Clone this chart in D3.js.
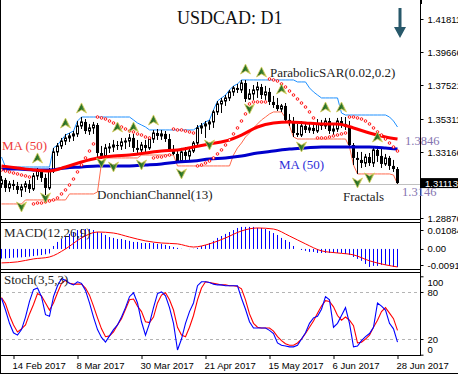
<!DOCTYPE html>
<html><head><meta charset="utf-8">
<script src="https://cdn.jsdelivr.net/npm/d3@7"></script>
<style>body{margin:0;background:#fff;}svg{display:block;}</style>
</head><body><svg id="c" width="458" height="374"></svg>
<script>
// ---------- DATA ----------
const dateIdx = [3,19,35,51,67,83,99];
const dateLabels = ["14 Feb 2017","8 Mar 2017","30 Mar 2017","21 Apr 2017","15 May 2017","6 Jun 2017","28 Jun 2017"];
const priceTicks = [1.41811,1.39666,1.37521,1.35311,1.33166,1.28876];
const lastPrice = 1.31113;
const macdTicks = [0.01084,0,-0.00919];
const macdTickLabels = ["0.01084","0.00","-0.00919"];
const stochTicks = [100,80,20,0];

const O = [1.3109,1.3135,1.3083,1.3109,1.3096,1.3070,1.3089,1.3109,1.3076,1.3161,
1.3193,1.3148,1.3083,1.3193,1.3317,1.3356,1.3388,1.3408,1.3421,1.3434,
1.3486,1.3512,1.3453,1.3473,1.3492,1.3310,1.3291,1.3343,1.3349,1.3362,
1.3356,1.3382,1.3388,1.3408,1.3343,1.3330,1.3362,1.3343,1.3401,1.3440,
1.3421,1.3434,1.3401,1.3336,1.3304,1.3258,1.3317,1.3291,1.3323,1.3375,
1.3473,1.3486,1.3499,1.3512,1.3577,1.3629,1.3648,1.3668,1.3707,1.3733,
1.3720,1.3765,1.3661,1.3694,1.3720,1.3739,1.3687,1.3707,1.3642,1.3622,
1.3596,1.3616,1.3525,1.3512,1.3440,1.3427,1.3486,1.3460,1.3473,1.3453,
1.3499,1.3486,1.3518,1.3453,1.3466,1.3518,1.3499,1.3479,1.3362,1.3278,
1.3265,1.3245,1.3284,1.3245,1.3330,1.3291,1.3239,1.3278,1.3226,1.3206];
const H = [1.3161,1.3148,1.3128,1.3135,1.3122,1.3109,1.3128,1.3135,1.3180,1.3213,
1.3200,1.3174,1.3213,1.3343,1.3375,1.3408,1.3434,1.3440,1.3453,1.3518,
1.3544,1.3531,1.3499,1.3512,1.3505,1.3356,1.3369,1.3375,1.3395,1.3388,
1.3408,1.3408,1.3434,1.3434,1.3395,1.3382,1.3395,1.3405,1.3460,1.3466,
1.3460,1.3453,1.3434,1.3362,1.3330,1.3343,1.3349,1.3343,1.3388,1.3492,
1.3505,1.3518,1.3525,1.3590,1.3648,1.3668,1.3687,1.3720,1.3746,1.3759,
1.3785,1.3785,1.3726,1.3752,1.3772,1.3759,1.3746,1.3733,1.3681,1.3668,
1.3629,1.3635,1.3564,1.3544,1.3499,1.3518,1.3512,1.3499,1.3512,1.3531,
1.3525,1.3538,1.3538,1.3492,1.3538,1.3544,1.3544,1.3518,1.3375,1.3317,
1.3317,1.3304,1.3310,1.3343,1.3356,1.3336,1.3304,1.3291,1.3265,1.3219];
const L = [1.3083,1.3057,1.3057,1.3070,1.3044,1.3024,1.3057,1.3050,1.3063,1.3135,
1.3122,1.3037,1.3070,1.3180,1.3291,1.3336,1.3362,1.3382,1.3388,1.3414,
1.3466,1.3434,1.3427,1.3434,1.3278,1.3271,1.3278,1.3310,1.3317,1.3330,
1.3330,1.3336,1.3349,1.3317,1.3297,1.3297,1.3310,1.3330,1.3375,1.3395,
1.3395,1.3382,1.3317,1.3297,1.3245,1.3245,1.3265,1.3252,1.3310,1.3362,
1.3434,1.3408,1.3460,1.3473,1.3557,1.3570,1.3616,1.3648,1.3681,1.3700,
1.3700,1.3642,1.3655,1.3655,1.3668,1.3661,1.3655,1.3622,1.3603,1.3583,
1.3577,1.3505,1.3486,1.3414,1.3414,1.3414,1.3440,1.3440,1.3434,1.3440,
1.3460,1.3466,1.3434,1.3427,1.3447,1.3473,1.3460,1.3349,1.3232,1.3174,
1.3213,1.3219,1.3226,1.3219,1.3252,1.3213,1.3226,1.3200,1.3187,1.3109];
const C = [1.3135,1.3083,1.3109,1.3096,1.3070,1.3089,1.3109,1.3076,1.3161,1.3193,
1.3148,1.3083,1.3193,1.3317,1.3356,1.3388,1.3408,1.3421,1.3434,1.3486,
1.3512,1.3453,1.3473,1.3492,1.3310,1.3291,1.3343,1.3349,1.3362,1.3356,
1.3382,1.3388,1.3408,1.3343,1.3330,1.3362,1.3343,1.3401,1.3440,1.3421,
1.3434,1.3401,1.3336,1.3304,1.3258,1.3317,1.3291,1.3323,1.3375,1.3473,
1.3486,1.3499,1.3512,1.3577,1.3629,1.3648,1.3668,1.3707,1.3733,1.3720,
1.3765,1.3661,1.3694,1.3720,1.3739,1.3687,1.3707,1.3642,1.3622,1.3596,
1.3616,1.3525,1.3512,1.3440,1.3427,1.3486,1.3460,1.3473,1.3453,1.3499,
1.3486,1.3518,1.3453,1.3466,1.3518,1.3499,1.3479,1.3362,1.3278,1.3265,
1.3245,1.3284,1.3245,1.3330,1.3291,1.3239,1.3278,1.3226,1.3206,1.3115];

const donchUpper = [1.3284,1.3219,1.3219,1.3219,1.3219,1.3219,1.3219,1.3219,1.3219,1.3219,
1.3219,1.3219,1.3219,1.3343,1.3362,1.3395,1.3427,1.3440,1.3453,1.3518,
1.3544,1.3544,1.3544,1.3544,1.3544,1.3544,1.3544,1.3544,1.3544,1.3544,
1.3544,1.3544,1.3544,1.3525,1.3505,1.3492,1.3479,1.3460,1.3460,1.3460,
1.3460,1.3460,1.3460,1.3460,1.3460,1.3460,1.3460,1.3460,1.3460,1.3479,
1.3492,1.3512,1.3525,1.3590,1.3648,1.3668,1.3687,1.3720,1.3746,1.3759,
1.3785,1.3785,1.3785,1.3785,1.3785,1.3785,1.3785,1.3785,1.3785,1.3785,
1.3785,1.3785,1.3785,1.3785,1.3772,1.3772,1.3772,1.3733,1.3707,1.3687,
1.3668,1.3668,1.3668,1.3668,1.3668,1.3570,1.3557,1.3557,1.3557,1.3557,
1.3557,1.3557,1.3557,1.3557,1.3557,1.3557,1.3557,1.3544,1.3518,1.3479];
const donchLower = [1.2979,1.2979,1.2979,1.2979,1.2979,1.2979,1.3005,1.3005,1.3005,1.3005,
1.3005,1.3005,1.3005,1.3005,1.3005,1.3005,1.3005,1.3044,1.3044,1.3044,
1.3044,1.3044,1.3044,1.3044,1.3057,1.3245,1.3278,1.3278,1.3278,1.3278,
1.3278,1.3278,1.3278,1.3278,1.3278,1.3297,1.3297,1.3297,1.3297,1.3297,
1.3297,1.3297,1.3297,1.3297,1.3226,1.3226,1.3226,1.3226,1.3226,1.3226,
1.3226,1.3226,1.3226,1.3226,1.3226,1.3226,1.3226,1.3226,1.3297,1.3343,
1.3375,1.3414,1.3440,1.3473,1.3499,1.3525,1.3544,1.3564,1.3577,1.3577,
1.3577,1.3538,1.3486,1.3414,1.3401,1.3401,1.3401,1.3401,1.3401,1.3401,
1.3401,1.3401,1.3401,1.3401,1.3401,1.3401,1.3401,1.3349,1.3232,1.3174,
1.3174,1.3174,1.3174,1.3174,1.3174,1.3174,1.3174,1.3174,1.3167,1.3109];

const sar = [1.3200,1.3193,1.3187,1.3180,1.3174,1.3167,1.3161,1.3154,1.2979,1.2985,
1.2985,1.2992,1.2998,1.3005,1.3018,1.3044,1.3070,1.3102,1.3141,1.3187,
1.3232,1.3278,1.3323,1.3369,1.3544,1.3538,1.3531,1.3518,1.3505,1.3492,
1.3479,1.3466,1.3453,1.3447,1.3434,1.3427,1.3414,1.3408,1.3278,1.3284,
1.3284,1.3291,1.3297,1.3466,1.3460,1.3460,1.3453,1.3447,1.3440,1.3226,
1.3232,1.3245,1.3258,1.3278,1.3304,1.3330,1.3362,1.3395,1.3434,1.3473,
1.3518,1.3564,1.3629,1.3642,1.3642,1.3642,1.3642,1.3791,1.3785,1.3778,
1.3759,1.3739,1.3713,1.3687,1.3661,1.3635,1.3609,1.3577,1.3538,1.3408,
1.3408,1.3408,1.3414,1.3421,1.3427,1.3434,1.3440,1.3544,1.3544,1.3538,
1.3531,1.3518,1.3499,1.3473,1.3447,1.3427,1.3401,1.3375,1.3349,1.3323];

const maIdx = [0,4,8,12,16,20,24,28,32,36,40,44,48,52,56,60,64,68,72,76,80,84,88,92,96,99];
const maRed = [1.3226,1.3213,1.3200,1.3193,1.3219,1.3252,1.3278,1.3291,1.3297,1.3310,1.3323,1.3330,1.3349,1.3369,1.3388,1.3427,1.3479,1.3505,1.3512,1.3505,1.3499,1.3499,1.3473,1.3440,1.3414,1.3401];
const maBlue = [1.3206,1.3206,1.3200,1.3200,1.3213,1.3219,1.3226,1.3226,1.3226,1.3232,1.3239,1.3252,1.3258,1.3271,1.3278,1.3291,1.3310,1.3323,1.3336,1.3343,1.3349,1.3349,1.3349,1.3349,1.3343,1.3336];

const fracUpIdx = [9,16,20,29,33,38,61,65,70,81,85,94];
const fracUpVal = [1.3278,1.3505,1.3603,1.3479,1.3479,1.3525,1.3856,1.3837,1.3726,1.3609,1.3609,1.3414];
const fracDnIdx = [5,11,25,28,35,45,52,62,75,89,92];
const fracDnVal = [1.2959,1.3018,1.3245,1.3219,1.3232,1.3174,1.3362,1.3596,1.3349,1.3115,1.3148];

const macdHist = [-0.0055,-0.0054,-0.0052,-0.0050,-0.0049,-0.0048,-0.0046,-0.0044,-0.0041,-0.0038,
-0.0035,-0.0031,-0.0026,0.0017,0.0040,0.0057,0.0068,0.0086,0.0097,0.0108,
0.0114,0.0114,0.0114,0.0108,0.0097,0.0091,0.0080,0.0068,0.0063,0.0057,
0.0057,0.0051,0.0046,0.0040,0.0040,0.0034,0.0034,0.0034,0.0034,0.0029,
0.0029,0.0023,0.0017,0.0011,0.0006,0.0001,0.0000,-0.0001,0.0001,0.0006,
0.0017,0.0023,0.0034,0.0046,0.0063,0.0074,0.0086,0.0097,0.0108,0.0120,
0.0126,0.0126,0.0126,0.0126,0.0120,0.0120,0.0114,0.0103,0.0091,0.0080,
0.0063,0.0051,0.0040,0.0017,0.0000,-0.0006,-0.0011,-0.0017,-0.0017,-0.0023,
-0.0023,-0.0023,-0.0023,-0.0023,-0.0023,-0.0023,-0.0029,-0.0034,-0.0046,-0.0057,
-0.0068,-0.0086,-0.0103,-0.0097,-0.0097,-0.0091,-0.0091,-0.0097,-0.0103,-0.0103];
const macdSignal = [-0.0080,-0.0074,-0.0057,-0.0046,0.0000,0.0063,0.0097,0.0091,0.0068,0.0046,0.0034,0.0029,0.0011,0.0029,0.0063,0.0103,0.0120,0.0114,0.0074,0.0029,-0.0011,-0.0023,-0.0034,-0.0068,-0.0091,-0.0103];

const stochK = [72,57,40,28,25,32,48,68,83,85,74,51,49,74,88,97,95,91,89,93,
91,82,66,48,32,22,16,24,32,38,48,60,74,79,66,42,25,40,60,78,
80,75,60,40,6,20,40,55,66,88,93,93,92,90,89,89,88,88,88,88,
72,58,42,34,34,34,34,31,27,15,12,11,10,10,12,20,28,40,47,49,
58,74,70,35,40,50,60,40,10,11,18,23,27,35,66,62,57,40,33,16];
const stochD = [73,65,50,38,29,33,38,52,64,78,75,66,57,66,79,91,95,91,90,90,
90,85,76,62,47,33,23,24,29,38,46,58,70,71,62,55,42,41,48,66,
76,79,70,57,35,25,23,35,50,70,85,93,92,91,90,89,89,88,88,87,
84,70,52,40,35,34,34,34,30,23,18,14,12,12,15,20,27,35,43,53,
62,69,68,61,50,44,48,44,37,15,16,20,25,35,44,55,60,53,46,31];

// ---------- SCALES ----------
const svg = d3.select("#c");
const x = d3.scaleLinear().domain([0,99]).range([1,397]);
const yP = d3.scaleLinear().domain([1.28876,1.41811]).range([218,19]);
const yM = d3.scaleLinear().domain([-0.00919,0.01084]).range([265,230]);
const yS = d3.scaleLinear().domain([0,100]).range([354.7,276.3]);
const PR = 420;
const serif = "'Liberation Serif','Times New Roman',serif";
const sans = "'Liberation Sans',Arial,sans-serif";

const defs = svg.append("defs");
defs.append("clipPath").attr("id","cm").append("rect").attr("x",0).attr("y",0).attr("width",PR).attr("height",219);
defs.append("clipPath").attr("id","cmacd").append("rect").attr("x",0).attr("y",222).attr("width",PR).attr("height",47);
defs.append("clipPath").attr("id","cst").append("rect").attr("x",0).attr("y",272).attr("width",PR).attr("height",83);
const gr = defs.append("linearGradient").attr("id","fg").attr("x1","0").attr("x2","1").attr("y1","0").attr("y2","0");
gr.append("stop").attr("offset","0").attr("stop-color","#17501f");
gr.append("stop").attr("offset","0.55").attr("stop-color","#2f7a2c");
gr.append("stop").attr("offset","1").attr("stop-color","#b8b84a");

// ---------- MAIN PANEL ----------
const main = svg.append("g").attr("clip-path","url(#cm)");
const idx = d3.range(100);

main.append("line").attr("x1",0).attr("x2",PR).attr("y1",Math.round(yP(lastPrice))+0.5).attr("y2",Math.round(yP(lastPrice))+0.5)
  .attr("stroke","#c0c0c0").attr("stroke-width",1);

const lineI = arr => d3.line().x(i=>x(i)+0.5).y(i=>yP(arr[i]));
main.append("path").attr("d",lineI(donchUpper)(idx)).attr("fill","none").attr("stroke","#1e90ff").attr("stroke-width",1);
main.append("path").attr("d",lineI(donchLower)(idx)).attr("fill","none").attr("stroke","#ff6a4d").attr("stroke-width",1);

// candles
const cg = main.append("g");
idx.forEach(i=>{
  const cx = x(i);
  cg.append("line").attr("x1",cx+0.5).attr("x2",cx+0.5).attr("y1",yP(H[i])).attr("y2",yP(L[i])).attr("stroke","#000");
  const top = yP(Math.max(O[i],C[i])), bot = yP(Math.min(O[i],C[i]));
  const h = Math.max(1,bot-top);
  if (C[i] >= O[i]) {
    cg.append("rect").attr("x",cx-0.5).attr("y",top).attr("width",2).attr("height",h).attr("fill","#fff").attr("stroke","#000").attr("stroke-width",1);
  } else {
    cg.append("rect").attr("x",cx-1).attr("y",top).attr("width",3).attr("height",h).attr("fill","#000");
  }
});

// moving averages
const maLine = arr => d3.line().curve(d3.curveMonotoneX).x((d,k)=>x(maIdx[k])+0.5).y((d,k)=>yP(arr[k]));
main.append("path").attr("d",maLine(maBlue)(maBlue)).attr("fill","none").attr("stroke","#0000cc").attr("stroke-width",3);
main.append("path").attr("d",maLine(maRed)(maRed)).attr("fill","none").attr("stroke","#ff0000").attr("stroke-width",3);

// parabolic SAR
main.append("g").selectAll("circle").data(idx).join("circle")
  .attr("cx",i=>x(i)+0.5).attr("cy",i=>yP(sar[i])).attr("r",1.3)
  .attr("fill","#fff").attr("stroke","#ff0000").attr("stroke-width",0.9);

// fractals
const upShape = "M0,-5L5,5L0,2L-5,5Z", dnShape = "M0,5L5,-5L0,-2L-5,-5Z";
main.append("g").selectAll("path").data(fracUpIdx).join("path")
  .attr("d",upShape).attr("transform",(d,k)=>`translate(${x(d)+0.5},${yP(fracUpVal[k])})`)
  .attr("fill","url(#fg)").attr("stroke","#d8cf5a").attr("stroke-width",0.8);
main.append("g").selectAll("path").data(fracDnIdx).join("path")
  .attr("d",dnShape).attr("transform",(d,k)=>`translate(${x(d)+0.5},${yP(fracDnVal[k])})`)
  .attr("fill","url(#fg)").attr("stroke","#d8cf5a").attr("stroke-width",0.8);

// title and arrow
svg.append("text").attr("x",177).attr("y",24).text("USDCAD: D1")
  .attr("font-family",serif).attr("font-size",18).attr("fill","#111");
svg.append("path").attr("d","M398.5,8H401.5V27H406L400,38L394,27H398.5Z").attr("fill","#28586a");

// annotations
const ann = (t,xx,yy,col,fs) => svg.append("text").attr("x",xx).attr("y",yy).text(t)
  .attr("font-family",serif).attr("font-size",fs||13).attr("fill",col);
ann("ParabolicSAR(0.02,0.2)",270,77,"#222");
ann("DonchianChannel(13)",97,199,"#222");
ann("Fractals",343,201,"#222");
ann("MA (50)",2,150,"#ee3a3a");
ann("MA (50)",279,169,"#2f2fd8");
ann("1.3846",405,145,"#8474b0",12.5);

// ---------- MACD PANEL ----------
const mg = svg.append("g").attr("clip-path","url(#cmacd)");
mg.selectAll("line").data(idx).join("line")
  .attr("x1",i=>x(i)+0.5).attr("x2",i=>x(i)+0.5)
  .attr("y1",yM(0)).attr("y2",i=>yM(macdHist[i]))
  .attr("stroke","#0000ff").attr("stroke-width",1);
mg.append("path").attr("d",d3.line().curve(d3.curveMonotoneX).x((d,k)=>x(maIdx[k])+0.5).y(d=>yM(d))(macdSignal))
  .attr("fill","none").attr("stroke","#ff0000").attr("stroke-width",1);
ann("MACD(12,26,9)",4,237,"#222");

// ---------- STOCH PANEL ----------
const sg = svg.append("g").attr("clip-path","url(#cst)");
[80,20].forEach(v=>{
  sg.append("line").attr("x1",0).attr("x2",PR).attr("y1",Math.round(yS(v))+0.5).attr("y2",Math.round(yS(v))+0.5)
    .attr("stroke","#b4b4b4").attr("stroke-dasharray","3,3");
});
const sLine = arr => d3.line().x(i=>x(i)+0.5).y(i=>yS(arr[i]));
sg.append("path").attr("d",sLine(stochD)(idx)).attr("fill","none").attr("stroke","#ff0000").attr("stroke-width",1.1);
sg.append("path").attr("d",sLine(stochK)(idx)).attr("fill","none").attr("stroke","#0000ff").attr("stroke-width",1.1);
ann("Stoch(3,5,3)",4,284,"#222");

// ---------- FRAMES ----------
const fr = svg.append("g").attr("stroke","#000").attr("stroke-width",1).attr("fill","none");
fr.append("line").attr("x1",0.5).attr("x2",0.5).attr("y1",0).attr("y2",374);
fr.append("line").attr("x1",0).attr("x2",458).attr("y1",373.5).attr("y2",373.5);
fr.append("line").attr("x1",PR+0.5).attr("x2",PR+0.5).attr("y1",0).attr("y2",355.5);
[219.5,222.5,269.5,272.5,355.5].forEach(yy=>fr.append("line").attr("x1",0).attr("x2",PR+1).attr("y1",yy).attr("y2",yy));
svg.append("rect").attr("x",PR).attr("y",0).attr("width",2).attr("height",4).attr("fill","#000");

// ---------- AXES ----------
function styleAxis(g){
  g.select(".domain").remove();
  g.selectAll("text").attr("font-family",sans).attr("font-size",9.5).attr("fill","#000");
  g.selectAll("line").attr("stroke","#000");
}
svg.append("g").attr("transform",`translate(${PR+0.5},0)`)
  .call(d3.axisRight(yP).tickValues(priceTicks).tickFormat(d=>d.toFixed(5)).tickSize(3).tickPadding(4))
  .call(styleAxis);
svg.append("g").attr("transform",`translate(${PR+0.5},0)`)
  .call(d3.axisRight(yM).tickValues(macdTicks).tickFormat((d,k)=>macdTickLabels[k]).tickSize(3).tickPadding(4))
  .call(styleAxis);
svg.append("g").attr("transform",`translate(${PR+0.5},0)`)
  .call(d3.axisRight(yS).tickValues(stochTicks).tickSize(3).tickPadding(4))
  .call(styleAxis)
  .call(g=>g.selectAll(".tick text").attr("dy",d=>d===100?"0.95em":(d===0?"-0.25em":"0.32em")));

// last price box
const ly = yP(lastPrice);
svg.append("rect").attr("x",PR+1).attr("y",ly-5.5).attr("width",40).attr("height",10).attr("fill","#000");
svg.append("text").attr("x",PR+5).attr("y",ly+3).text(lastPrice.toFixed(5))
  .attr("font-family",sans).attr("font-size",9.5).attr("fill","#fff");
ann("1.3146",402,196,"#8474b0",12.5);

// date axis
svg.append("g").attr("transform","translate(0,355)")
  .call(d3.axisBottom(x).tickValues(dateIdx).tickFormat((d,k)=>dateLabels[k]).tickSize(4).tickPadding(3))
  .call(styleAxis)
  .call(g=>g.selectAll(".tick line").attr("transform","translate(0.5,0)"))
  .call(g=>g.selectAll(".tick text").attr("text-anchor","start").attr("x",-1));
</script></body></html>
